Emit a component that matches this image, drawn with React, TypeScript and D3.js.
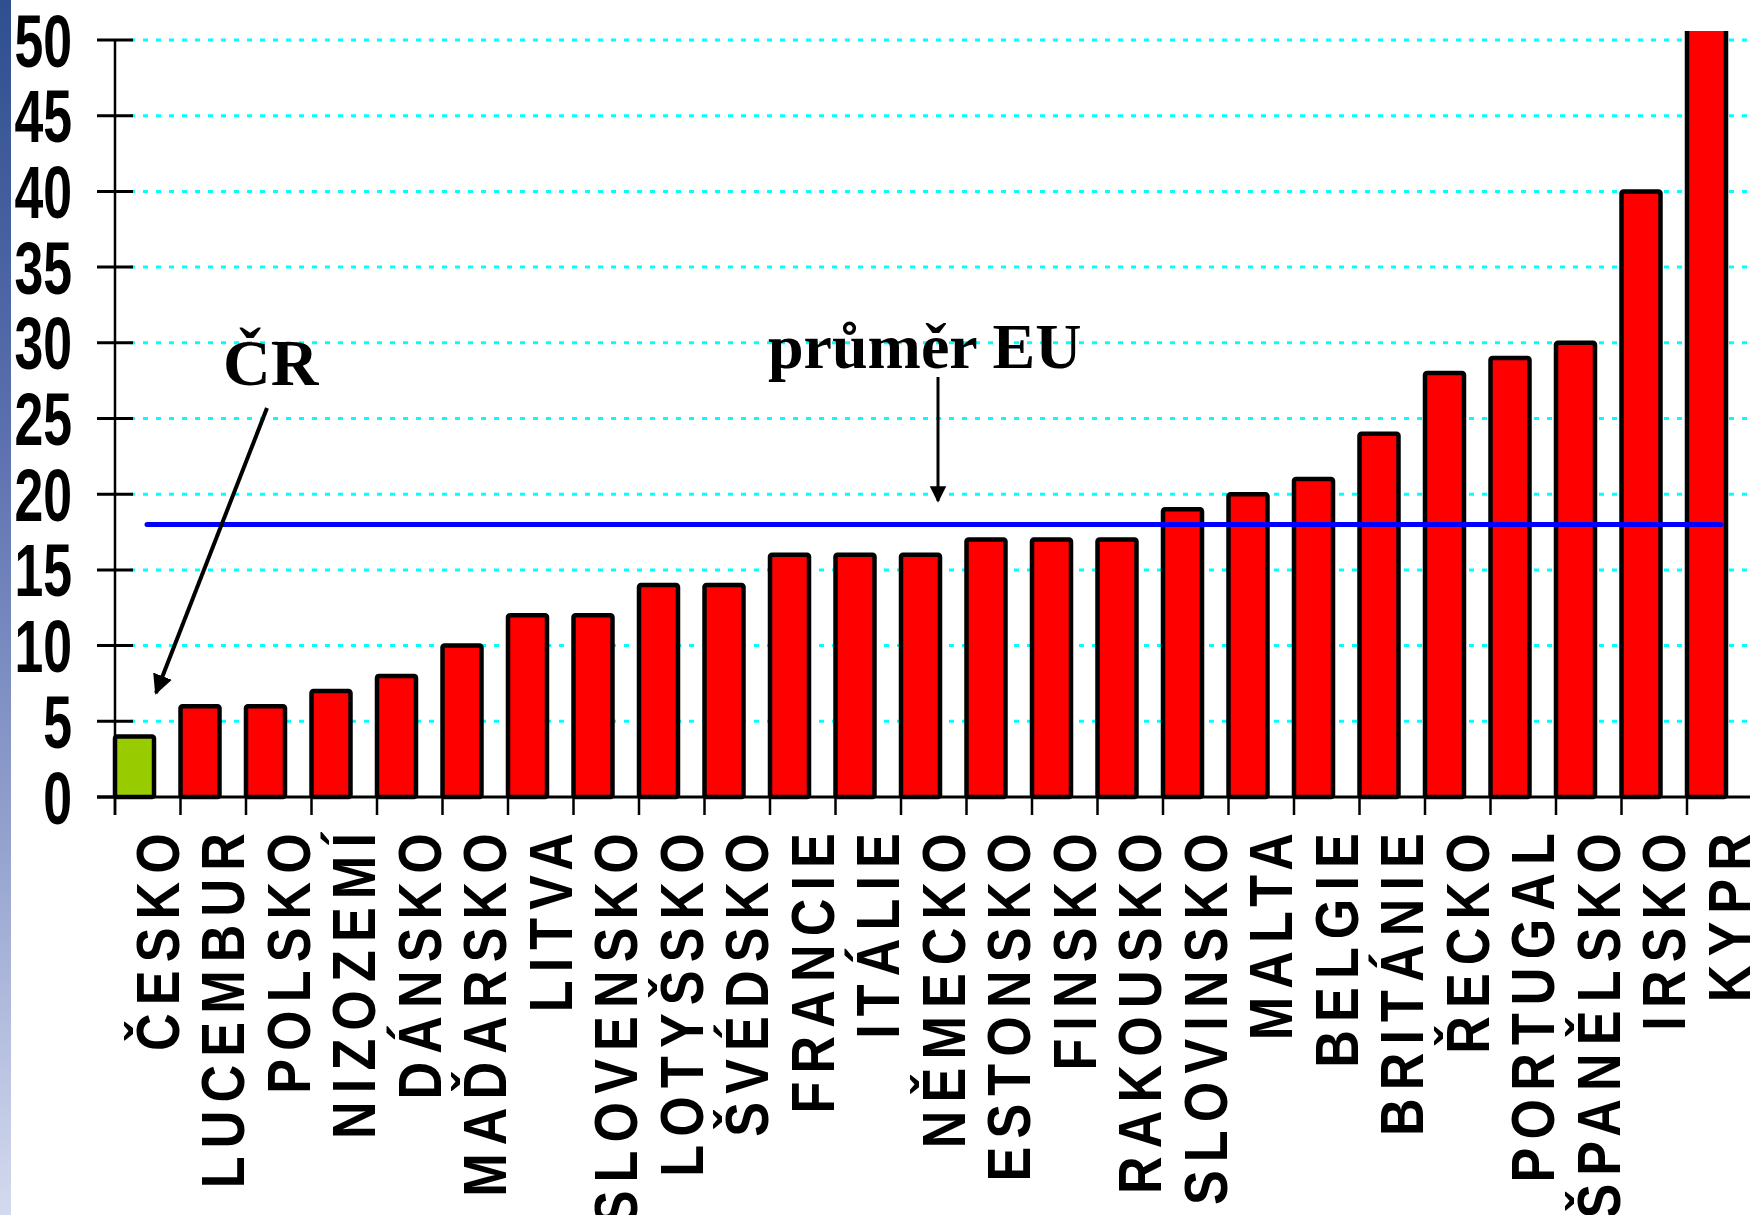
import React from "react";
import * as d3 from "d3";

const categories = [
  "ČESKO", "LUCEMBUR", "POLSKO", "NIZOZEMÍ", "DÁNSKO", "MAĎARSKO", "LITVA",
  "SLOVENSKO", "LOTYŠSKO", "ŠVÉDSKO", "FRANCIE", "ITÁLIE", "NĚMECKO",
  "ESTONSKO", "FINSKO", "RAKOUSKO", "SLOVINSKO", "MALTA", "BELGIE",
  "BRITÁNIE", "ŘECKO", "PORTUGAL", "ŠPANĚLSKO", "IRSKO", "KYPR",
];
const values = [4, 6, 6, 7, 8, 10, 12, 12, 14, 14, 16, 16, 16, 17, 17, 17, 19, 20, 21, 24, 28, 29, 30, 40, 52];
const yTicks = [0, 5, 10, 15, 20, 25, 30, 35, 40, 45, 50];
const gridTicks = [5, 10, 15, 20, 25, 30, 35, 40, 45, 50];
const euAverage = 18;
const highlight = "ČESKO";

const W = 1750;
const H = 1215;

export default function App() {
  const y = d3.scaleLinear().domain([0, 50]).range([797, 40]);
  const step = 65.5;
  const x = d3
    .scaleBand<string>()
    .domain(categories)
    .range([115, 115 + step * categories.length])
    .padding(0);

  const barW = 39;

  return (
    <svg
      width={W}
      height={H}
      viewBox={`0 0 ${W} ${H}`}
      style={{ position: "absolute", left: 0, top: 0, background: "#fff" }}
    >
      <defs>
        <linearGradient id="strip" x1="0" y1="0" x2="0" y2="1">
          <stop offset="0" stopColor="#2f4f8e" />
          <stop offset="0.35" stopColor="#5a6fae" />
          <stop offset="0.7" stopColor="#95a3cf" />
          <stop offset="1" stopColor="#d4daee" />
        </linearGradient>
        <clipPath id="plotClip">
          <rect x={0} y={31} width={W} height={H} />
        </clipPath>
        <marker id="ah" viewBox="0 0 10 10" refX="9" refY="5" markerWidth="5" markerHeight="5" orient="auto" markerUnits="strokeWidth">
          <path d="M0,0 L10,5 L0,10 z" fill="#000" />
        </marker>
        <marker id="ah2" viewBox="0 0 10 10" refX="9" refY="5" markerWidth="5.5" markerHeight="6" orient="auto" markerUnits="strokeWidth">
          <path d="M0,0 L10,5 L0,10 z" fill="#000" />
        </marker>
      </defs>

      <rect x={0} y={0} width={W} height={H} fill="#fff" />
      <rect x={0} y={0} width={11} height={H} fill="url(#strip)" />

      {/* gridlines */}
      {gridTicks.map((t) => (
        <line
          key={"g" + t}
          x1={130}
          x2={W}
          y1={y(t)}
          y2={y(t)}
          stroke="#00FFFF"
          strokeWidth={3}
          strokeDasharray="5 8"
        />
      ))}

      {/* y ticks & labels */}
      {yTicks.map((t) => (
        <g key={"t" + t}>
          <line x1={97} x2={133} y1={y(t)} y2={y(t)} stroke="#000" strokeWidth={3} />
          <text
            transform={`translate(72, ${y(t) + 26.5}) scale(0.7, 1)`}
            textAnchor="end"
            fontFamily="'Liberation Sans', Arial, sans-serif"
            fontWeight="bold"
            fontSize={74}
            fill="#000"
          >
            {t}
          </text>
        </g>
      ))}

      {/* y axis line */}
      <line x1={115} x2={115} y1={y(50) - 1} y2={815} stroke="#000" strokeWidth={2.5} />

      {/* bars */}
      <g clipPath="url(#plotClip)">
        {categories.map((c, i) => (
          <rect
            key={c}
            x={x(c)!}
            y={y(values[i])}
            width={barW}
            height={y(0) - y(values[i])}
            rx={2}
            fill={c === highlight ? "#99CC00" : "#FF0000"}
            stroke="#000"
            strokeWidth={4.5}
          />
        ))}
      </g>

      {/* x axis */}
      <line x1={97} x2={W} y1={y(0)} y2={y(0)} stroke="#000" strokeWidth={3} />
      {categories.map((c) => (
        <line key={"xt" + c} x1={x(c)!} x2={x(c)!} y1={y(0)} y2={815} stroke="#000" strokeWidth={2.5} />
      ))}

      {/* x labels */}
      {categories.map((c) => (
        <text
          key={"xl" + c}
          transform={`translate(${x(c)! + 63.5}, 825) rotate(-90) scale(0.84, 1)`}
          textAnchor="end"
          fontFamily="'Liberation Sans', Arial, sans-serif"
          fontWeight="bold"
          fontSize={62}
          letterSpacing={9.7}
          fill="#000"
        >
          {c}
        </text>
      ))}

      {/* EU average line */}
      <line
        x1={147}
        x2={1721}
        y1={y(euAverage)}
        y2={y(euAverage)}
        stroke="#0000FF"
        strokeWidth={5}
        strokeLinecap="round"
      />

      {/* annotations */}
      <text
        x={223}
        y={385}
        fontFamily="'Liberation Serif', 'Times New Roman', serif"
        fontWeight="bold"
        fontSize={66}
        fill="#000"
      >
        ČR
      </text>
      <line x1={267} y1={408} x2={156} y2={693} stroke="#000" strokeWidth={4} markerEnd="url(#ah)" />

      <text
        x={768}
        y={368}
        fontFamily="'Liberation Serif', 'Times New Roman', serif"
        fontWeight="bold"
        fontSize={64}
        fill="#000"
      >
        průměr EU
      </text>
      <line x1={938} y1={377} x2={938} y2={501} stroke="#000" strokeWidth={3} markerEnd="url(#ah2)" />
    </svg>
  );
}
